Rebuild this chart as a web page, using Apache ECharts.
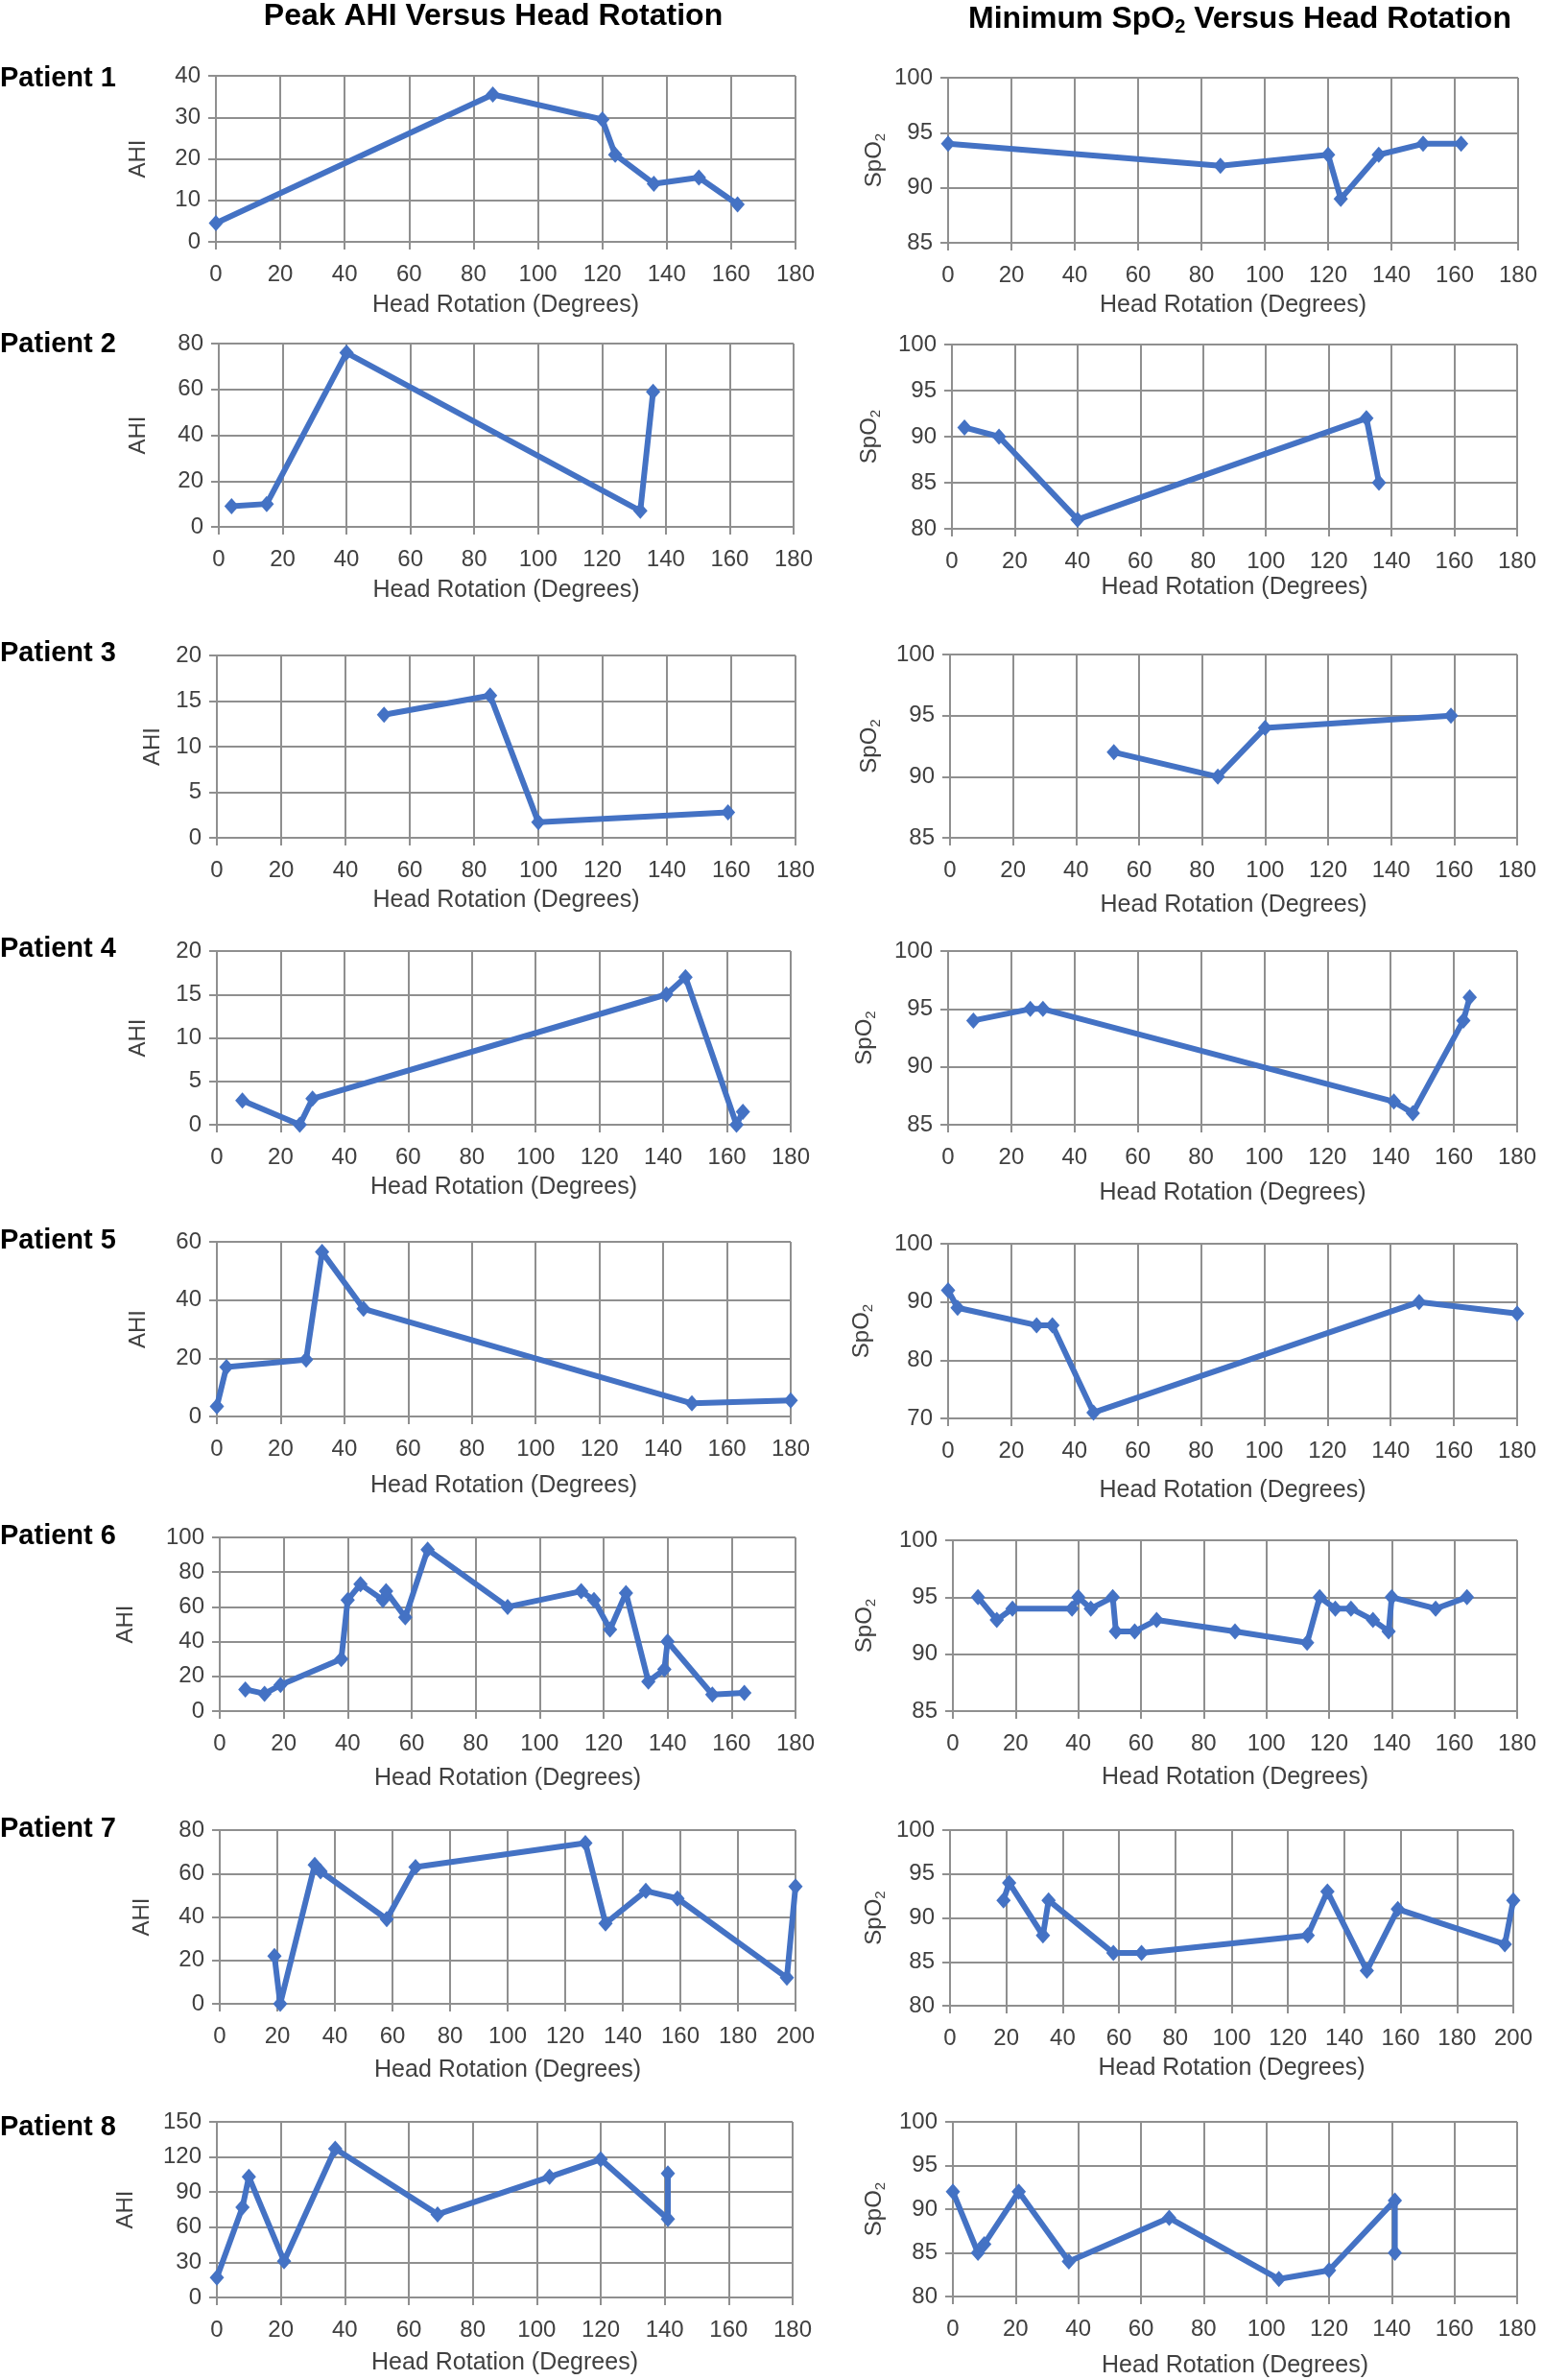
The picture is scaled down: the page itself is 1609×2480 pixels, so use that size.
<!DOCTYPE html>
<html>
<head>
<meta charset="utf-8">
<title>Peak AHI / Minimum SpO2 Versus Head Rotation</title>
<script src="https://cdn.jsdelivr.net/npm/echarts@6/dist/echarts.min.js"></script>
<style>
  html, body { margin: 0; padding: 0; background: #fff; }
  #chart { width: 1609px; height: 2480px; }
</style>
</head>
<body>
<div id="chart"></div>
<script>
// head rotation (degrees) per recording, with peak AHI and minimum SpO2 at that angle
const rot1 = [0, 86, 120, 124, 136, 150, 162];
const ahi1 = [4.5, 35.5, 29.5, 21, 14, 15.5, 9];
const spo1 = [94, 92, 93, 89, 93, 94, 94];

const rot2 = [4, 15, 40, 132, 136];
const ahi2 = [9, 10, 76, 7, 59];
const spo2 = [91, 90, 81, 92, 85];

const rot3 = [52, 85, 100, 159];
const ahi3 = [13.5, 15.6, 1.7, 2.8];
const spo3 = [92, 90, 94, 95];

const rot4 = [8, 26, 30, 141, 147, 163, 165];
const ahi4 = [2.8, 0, 3, 15, 17, 0, 1.5];
const spo4 = [94, 95, 95, 87, 86, 94, 96];

const rot5 = [0, 3, 28, 33, 46, 149, 180];
const ahi5 = [3.5, 17, 19.5, 56.5, 37, 4.5, 5.5];
const spo5 = [92, 89, 86, 86, 71, 90, 88];

const rot6 = [8, 14, 19, 38, 40, 44, 51, 52, 58, 65, 90, 113, 117, 122, 127, 134, 139, 140, 154, 164];
const ahi6 = [12.5, 10, 15, 30, 64, 73, 64, 69, 54, 93, 60, 69, 64, 47, 68, 17, 24, 40, 9.5, 10.5];
const spo6 = [95, 93, 94, 94, 95, 94, 95, 92, 92, 93, 92, 91, 95, 94, 94, 93, 92, 95, 94, 95];

const rot7 = [19, 21, 33, 35, 58, 68, 127, 134, 148, 159, 197, 200];
const ahi7 = [22, 0, 64, 61, 39, 63, 74, 37, 52, 48.5, 12, 54];
const spo7 = [92, 94, 88, 92, 86, 86, 88, 93, 84, 91, 87, 92];

const rot8 = [0, 8, 10, 21, 37, 69, 104, 120, 141, 141];
const ahi8 = [17, 77, 103, 31, 127, 71, 103, 118, 67, 106];
const spo8 = [92, 85, 86, 92, 84, 89, 82, 83, 91, 85];

const patients = ['Patient 1', 'Patient 2', 'Patient 3', 'Patient 4',
                  'Patient 5', 'Patient 6', 'Patient 7', 'Patient 8'];
const rots = [rot1, rot2, rot3, rot4, rot5, rot6, rot7, rot8];
const ahis = [ahi1, ahi2, ahi3, ahi4, ahi5, ahi6, ahi7, ahi8];
const spos = [spo1, spo2, spo3, spo4, spo5, spo6, spo7, spo8];

// axis ranges: [min, max, interval]
const ahiRange = [[0, 40, 10], [0, 80, 20], [0, 20, 5], [0, 20, 5],
                  [0, 60, 20], [0, 100, 20], [0, 80, 20], [0, 150, 30]];
const spoRange = [[85, 100, 5], [80, 100, 5], [85, 100, 5], [85, 100, 5],
                  [70, 100, 10], [85, 100, 5], [80, 100, 5], [80, 100, 5]];
const rotMax = [180, 180, 180, 180, 180, 180, 200, 180];

// layout of the plot areas: [left, top, width, height]
const leftBox = [[225, 79, 604, 173], [228, 358, 599, 191], [226, 683, 603, 190], [226, 991, 598, 181],
                 [226, 1294, 598, 182], [229, 1602, 600, 181], [229, 1907, 600, 181], [226, 2211, 600, 183]];
const rightBox = [[988, 81, 594, 172], [992, 359, 589, 192], [990, 682, 591, 191], [988, 991, 593, 181],
                  [988, 1296, 593, 182], [993, 1605, 588, 178], [990, 1907, 587, 183], [993, 2211, 588, 182]];
const leftNameGapX = [54, 54, 53, 53, 60, 58, 57, 56];
const rightNameGapX = [53, 49, 58, 59, 63, 57, 53, 60];
const leftNameGapY = [69, 72, 55, 70, 70, 86, 69, 83];
const rightNameGapY = [63, 72, 70, 73, 76, 78, 65, 68];
const labelY = [82, 359, 681, 989, 1293, 1601, 1906, 2217];

const FONT = '"Liberation Sans", Arial, sans-serif';
const BLUE = '#4472c4';
const GRAY = '#8f8f8f';
const TEXT = '#404040';

let grids = [], xAxes = [], yAxes = [], series = [];

function addPanel(box, rot, vals, yr, xmax, yName, gapX, gapY) {
  const i = grids.length;
  grids.push({left: box[0], top: box[1], width: box[2], height: box[3]});
  xAxes.push({
    gridIndex: i, type: 'value', min: 0, max: xmax, interval: 20,
    name: 'Head Rotation (Degrees)', nameLocation: 'middle', nameGap: gapX,
    nameTextStyle: {color: TEXT, fontSize: 25, fontFamily: FONT},
    axisLine: {show: true, lineStyle: {color: GRAY, width: 2}},
    axisTick: {show: true, length: 8, lineStyle: {color: GRAY, width: 2}},
    axisLabel: {margin: 22, color: TEXT, fontSize: 24, fontFamily: FONT},
    splitLine: {show: true, lineStyle: {color: GRAY, width: 2}}
  });
  yAxes.push({
    gridIndex: i, type: 'value', min: yr[0], max: yr[1], interval: yr[2],
    name: yName, nameLocation: 'middle', nameGap: gapY, nameRotate: 90,
    nameTextStyle: {
      color: TEXT, fontSize: 24, fontFamily: FONT,
      rich: {
        b: {fontSize: 24, fontFamily: FONT, color: TEXT, lineHeight: 28},
        s: {fontSize: 15, fontFamily: FONT, color: TEXT, verticalAlign: 'bottom', lineHeight: 15, padding: [11, 0, 0, 0]}
      }
    },
    axisLine: {show: true, lineStyle: {color: GRAY, width: 2}},
    axisTick: {show: true, length: 8, lineStyle: {color: GRAY, width: 2}},
    axisLabel: {margin: 16, color: TEXT, fontSize: 24, fontFamily: FONT},
    splitLine: {show: true, lineStyle: {color: GRAY, width: 2}}
  });
  series.push({
    type: 'line', xAxisIndex: i, yAxisIndex: i,
    data: rot.map((r, k) => [r, vals[k]]),
    symbol: 'diamond', symbolSize: [15, 17], clip: false,
    lineStyle: {color: BLUE, width: 6},
    itemStyle: {color: BLUE},
    animation: false
  });
}

for (let p = 0; p < 8; p++) {
  addPanel(leftBox[p], rots[p], ahis[p], ahiRange[p], rotMax[p], 'AHI', leftNameGapX[p], leftNameGapY[p]);
  addPanel(rightBox[p], rots[p], spos[p], spoRange[p], rotMax[p], '{b|SpO}{s|2}', rightNameGapX[p], rightNameGapY[p]);
}

let graphics = [
  {type: 'text', x: 514, y: 17, style: {
    text: 'Peak AHI Versus Head Rotation', fill: '#000',
    font: 'bold 32px ' + FONT, textAlign: 'center', textVerticalAlign: 'middle'}},
  {type: 'text', x: 1292, y: 20, style: {
    text: '{b|Minimum SpO}{s|2}{b| Versus Head Rotation}', fill: '#000',
    textAlign: 'center', textVerticalAlign: 'middle',
    rich: {
      b: {fontSize: 32, fontWeight: 'bold', fontFamily: FONT, lineHeight: 36},
      s: {fontSize: 20, fontWeight: 'bold', fontFamily: FONT, verticalAlign: 'bottom', lineHeight: 20, padding: [16, 0, 0, 0]}
    }}}
];
patients.forEach((name, p) => {
  graphics.push({type: 'text', x: 0, y: labelY[p], style: {
    text: name, fill: '#000', font: 'bold 29px ' + FONT,
    textAlign: 'left', textVerticalAlign: 'middle'}});
});

const chart = echarts.init(document.getElementById('chart'));
chart.setOption({
  backgroundColor: '#fff',
  animation: false,
  grid: grids,
  xAxis: xAxes,
  yAxis: yAxes,
  series: series,
  graphic: graphics
});
</script>
</body>
</html>
